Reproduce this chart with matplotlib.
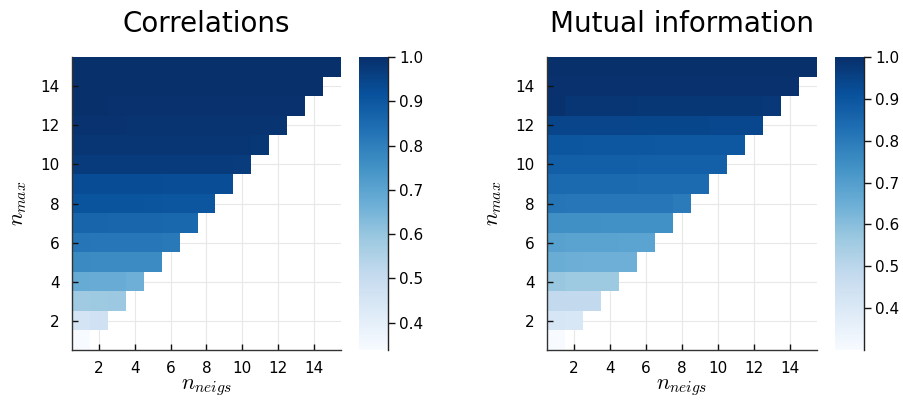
import numpy as np
import matplotlib
matplotlib.use("Agg")
import matplotlib.pyplot as plt

plt.rcParams["font.family"] = ["DejaVu Sans"]
plt.rcParams["mathtext.fontset"] = "cm"

# Heatmap values: row k holds n_neigs = 1..n_max for n_max = k + 1
n_values = list(range(1, 16))

corr_rows = [
    [0.338],
    [0.455, 0.475],
    [0.585, 0.588, 0.590],
    [0.677, 0.676, 0.675, 0.664],
    [0.768, 0.767, 0.766, 0.766, 0.765],
    [0.824, 0.819, 0.818, 0.818, 0.817, 0.815],
    [0.864, 0.863, 0.862, 0.862, 0.861, 0.860, 0.858],
    [0.908, 0.908, 0.907, 0.907, 0.906, 0.904, 0.904, 0.903],
    [0.929, 0.929, 0.928, 0.928, 0.928, 0.927, 0.927, 0.927, 0.926],
    [0.971, 0.971, 0.970, 0.970, 0.970, 0.970, 0.969, 0.969, 0.969, 0.968],
    [0.984, 0.984, 0.984, 0.983, 0.983, 0.983, 0.983, 0.982, 0.982, 0.982, 0.981],
    [0.990, 0.990, 0.990, 0.989, 0.989, 0.989, 0.989, 0.989, 0.988, 0.988, 0.988, 0.988],
    [0.998, 0.998, 0.997, 0.997, 0.997, 0.997, 0.997, 0.997, 0.996, 0.996, 0.996, 0.996, 0.996],
    [0.999, 0.999, 0.999, 0.999, 0.999, 0.999, 0.999, 0.999, 0.999, 0.998, 0.998, 0.998, 0.998, 0.998],
    [1.000, 1.000, 1.000, 1.000, 1.000, 1.000, 1.000, 1.000, 1.000, 1.000, 1.000, 1.000, 1.000, 1.000, 1.000],
]

mi_rows = [
    [0.300],
    [0.413, 0.412],
    [0.484, 0.485, 0.483],
    [0.573, 0.565, 0.564, 0.563],
    [0.655, 0.648, 0.647, 0.647, 0.646],
    [0.690, 0.687, 0.686, 0.686, 0.685, 0.684],
    [0.742, 0.741, 0.741, 0.740, 0.740, 0.739, 0.738],
    [0.812, 0.811, 0.811, 0.810, 0.810, 0.809, 0.808, 0.800],
    [0.846, 0.846, 0.845, 0.845, 0.845, 0.844, 0.844, 0.843, 0.843],
    [0.873, 0.873, 0.872, 0.872, 0.872, 0.871, 0.871, 0.870, 0.870, 0.869],
    [0.897, 0.897, 0.896, 0.896, 0.894, 0.894, 0.893, 0.893, 0.892, 0.892, 0.891],
    [0.945, 0.945, 0.944, 0.944, 0.944, 0.942, 0.942, 0.941, 0.941, 0.939, 0.939, 0.938],
    [0.992, 0.982, 0.981, 0.981, 0.981, 0.980, 0.980, 0.980, 0.980, 0.979, 0.979, 0.979, 0.978],
    [0.997, 0.997, 0.997, 0.997, 0.997, 0.997, 0.997, 0.996, 0.996, 0.996, 0.996, 0.996, 0.996, 0.996],
    [1.000, 1.000, 1.000, 1.000, 1.000, 1.000, 1.000, 1.000, 1.000, 1.000, 1.000, 1.000, 1.000, 1.000, 1.000],
]

panel_titles = ["Correlations", "Mutual information"]
tick_values = [2, 4, 6, 8, 10, 12, 14]
cbar_ticks = [0.4, 0.5, 0.6, 0.7, 0.8, 0.9, 1.0]


def to_grid(rows, n):
    grid = np.full((n, n), np.nan)
    for j, row in enumerate(rows):
        grid[j, :len(row)] = row
    return np.ma.masked_invalid(grid)


fig = plt.figure(figsize=(9.04, 4.0), dpi=100)

heat_boxes = [[0.0796, 0.125, 0.2976, 0.7325], [0.605, 0.125, 0.2987, 0.7325]]
cbar_boxes = [[0.397, 0.125, 0.032, 0.7325], [0.9237, 0.125, 0.032, 0.7325]]

edges = np.arange(0.5, len(n_values) + 1, 1.0)

for rows, title, hbox, cbox in zip([corr_rows, mi_rows], panel_titles, heat_boxes, cbar_boxes):
    ax = fig.add_axes(hbox)
    grid = to_grid(rows, len(n_values))
    vmin, vmax = float(grid.min()), float(grid.max())

    for t in tick_values:
        ax.axvline(t, color="#e8e8e8", lw=0.8, zorder=0)
        ax.axhline(t, color="#e8e8e8", lw=0.8, zorder=0)

    mesh = ax.pcolormesh(edges, edges, grid, cmap="Blues", vmin=vmin, vmax=vmax,
                         shading="flat", zorder=1, linewidth=0, antialiased=False)

    ax.set_xlim(edges[0], edges[-1])
    ax.set_ylim(edges[0], edges[-1])
    ax.set_xticks(tick_values)
    ax.set_yticks(tick_values)
    ax.tick_params(direction="in", length=4, width=1, color="#111111",
                   labelsize=11, labelcolor="black")
    ax.tick_params(axis="x", pad=8)
    ax.tick_params(axis="y", pad=9)
    for side in ["top", "right"]:
        ax.spines[side].set_visible(False)
    for side in ["left", "bottom"]:
        ax.spines[side].set_color("#333333")
        ax.spines[side].set_linewidth(1.0)
        ax.spines[side].set_zorder(3)

    ax.set_title(title, fontsize=20, pad=18)
    ax.set_xlabel(r"$n_{neigs}$", fontsize=16, labelpad=1)
    ax.set_ylabel(r"$n_{max}$", fontsize=16, labelpad=8)

    cax = fig.add_axes(cbox)
    cb = fig.colorbar(mesh, cax=cax)
    cb.outline.set_visible(False)
    cb.set_ticks(cbar_ticks)
    cb.set_ticklabels([f"{v:.1f}" for v in cbar_ticks])
    cax.tick_params(direction="out", length=5, width=1, color="#111111",
                    labelsize=11, labelcolor="black", pad=3)
    cax.plot([1, 1], [0, 1], transform=cax.transAxes, color="#222222",
             lw=1, clip_on=False)

fig.savefig("out.png", dpi=100)
